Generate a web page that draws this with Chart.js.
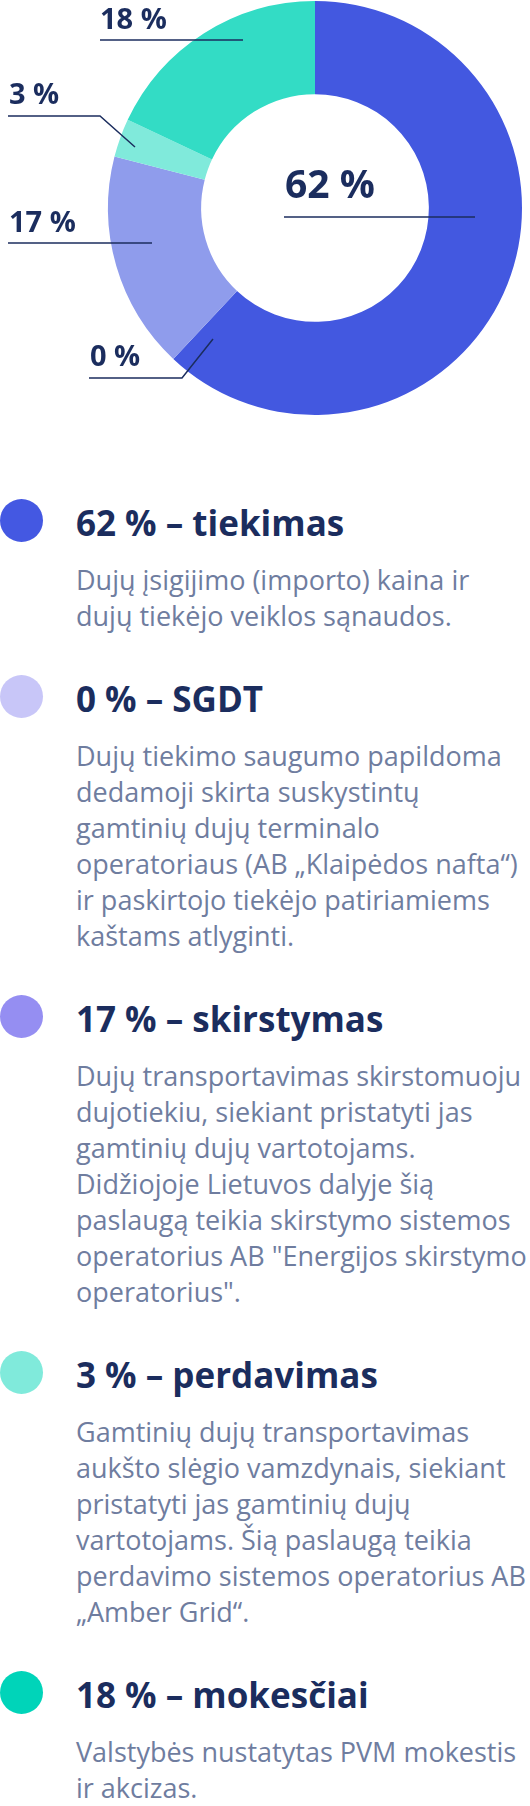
<!DOCTYPE html>
<html lang="lt">
<head>
<meta charset="utf-8">
<title>Dujų kainos sudėtis</title>
<script src="https://cdn.jsdelivr.net/npm/chart.js@4"></script>
<style>
  html, body { margin: 0; padding: 0; background: #fff; }
  body { width: 530px; font-family: "Open Sans", sans-serif; }
  #chartBox { position: relative; width: 530px; height: 420px; }
  #legend { position: relative; margin-top: 83px; }
  .item { position: relative; padding-left: 76px; margin-bottom: 45px; }
  .dot { position: absolute; left: 0; top: -4px; width: 43px; height: 43px; border-radius: 50%; }
  .title { font-size: 35px; line-height: 40px; font-weight: 700; color: #1b2d5e; white-space: nowrap; }
  .desc { margin-top: 19px; font-size: 27px; line-height: 36px; color: #6f7d9f; white-space: nowrap; }
</style>
</head>
<body>
<div id="chartBox"><canvas id="gasChart"></canvas></div>
<div id="legend"></div>

<script>
// Price structure data
const categories = ["tiekimas", "SGDT", "skirstymas", "perdavimas", "mokesčiai"];
const shares = [62, 0, 17, 3, 18];
const sliceColors = ["#4358e0", "#c8c6f8", "#8f9cec", "#80eadb", "#33dcc5"];
const dotColors = ["#4458e2", "#c8c6f8", "#958ef2", "#80eadb", "#00d4b9"];
const descriptions = [
    ["Dujų įsigijimo (importo) kaina ir", "dujų tiekėjo veiklos sąnaudos."],
    ["Dujų tiekimo saugumo papildoma", "dedamoji skirta suskystintų", "gamtinių dujų terminalo",
     "operatoriaus (AB „Klaipėdos nafta“)", "ir paskirtojo tiekėjo patiriamiems", "kaštams atlyginti."],
    ["Dujų transportavimas skirstomuoju", "dujotiekiu, siekiant pristatyti jas", "gamtinių dujų vartotojams.",
     "Didžiojoje Lietuvos dalyje šią", "paslaugą teikia skirstymo sistemos",
     "operatorius AB \"Energijos skirstymo", "operatorius\"."],
    ["Gamtinių dujų transportavimas", "aukšto slėgio vamzdynais, siekiant", "pristatyti jas gamtinių dujų",
     "vartotojams. Šią paslaugą teikia", "perdavimo sistemos operatorius AB", "„Amber Grid“."],
    ["Valstybės nustatytas PVM mokestis", "ir akcizas."],
];

// Label placement around the donut (text x, text baseline, underline y, line start/end, optional leader end)
const labelSpots = [
    { x: 285, y: 198, size: 39, lineY: 217, x1: 284, x2: 475 },
    { x: 90, y: 366, size: 29, lineY: 378, x1: 89, x2: 182, tip: [213, 339] },
    { x: 9, y: 232, size: 29, lineY: 243, x1: 8, x2: 152 },
    { x: 9, y: 104, size: 29, lineY: 116, x1: 8, x2: 100, tip: [135, 147] },
    { x: 100, y: 29, size: 29, lineY: 40, x1: 100, x2: 243 },
];

const pctLabels = {
    id: "pctLabels",
    afterDatasetsDraw(chart) {
        const c = chart.ctx;
        c.save();
        c.fillStyle = "#1b2d5e";
        c.strokeStyle = "#1b2d5e";
        c.lineWidth = 1.5;
        c.textBaseline = "alphabetic";
        c.textAlign = "left";
        chart.data.datasets[0].data.forEach((v, i) => {
            const s = labelSpots[i];
            c.font = "700 " + s.size + "px 'Open Sans'";
            c.fillText(v + " %", s.x, s.y);
            c.beginPath();
            c.moveTo(s.x1, s.lineY);
            c.lineTo(s.x2, s.lineY);
            if (s.tip) c.lineTo(s.tip[0], s.tip[1]);
            c.stroke();
        });
        c.restore();
    },
};

const ctx = document.getElementById("gasChart").getContext("2d");
new Chart(ctx, {
    type: "doughnut",
    data: {
        labels: categories,
        datasets: [{
            data: shares,
            backgroundColor: sliceColors,
            borderWidth: 0,
        }],
    },
    options: {
        responsive: true,
        maintainAspectRatio: false,
        animation: false,
        cutout: "55%",
        layout: { padding: { left: 108, right: 8, top: 1, bottom: 5 } },
        plugins: {
            legend: { display: false },
            tooltip: { enabled: false },
        },
    },
    plugins: [pctLabels],
});

// Legend list under the chart
const legend = document.getElementById("legend");
categories.forEach((name, i) => {
    const item = document.createElement("div");
    item.className = "item";
    const dot = document.createElement("div");
    dot.className = "dot";
    dot.style.background = dotColors[i];
    const title = document.createElement("div");
    title.className = "title";
    title.textContent = shares[i] + " % – " + name;
    const desc = document.createElement("div");
    desc.className = "desc";
    descriptions[i].forEach((line, j) => {
        if (j) desc.appendChild(document.createElement("br"));
        desc.appendChild(document.createTextNode(line));
    });
    item.append(dot, title, desc);
    legend.appendChild(item);
});
</script>
</body>
</html>
